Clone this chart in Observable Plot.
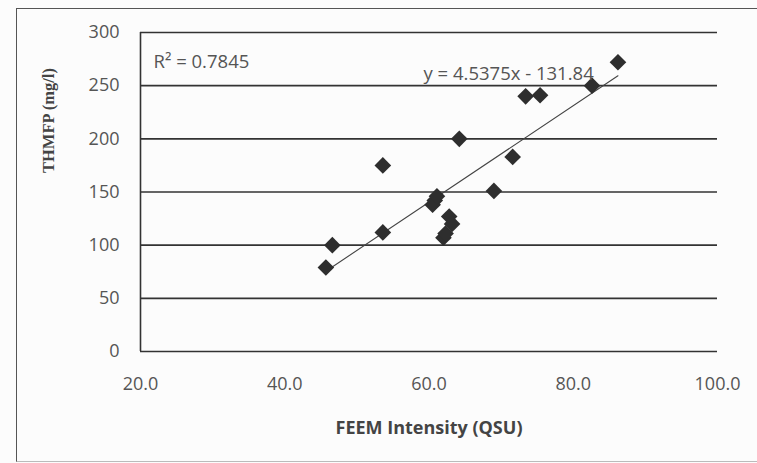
<!DOCTYPE html>
<html>
<head>
<meta charset="utf-8">
<script src="https://cdn.jsdelivr.net/npm/d3@7"></script>
<script src="https://cdn.jsdelivr.net/npm/@observablehq/plot@0.6"></script>
<style>
  body { margin: 0; background: #fcfcfc; }
  #wrap { position: relative; width: 757px; height: 463px; overflow: hidden; }
  #border { position: absolute; left: 16px; top: 8px; width: 800px; height: 452px;
            border-left: 1.5px solid #555; border-top: 1.5px solid #555; border-bottom: 1px solid #bbb; }
  #chart { position: absolute; left: 0; top: 0; }
</style>
</head>
<body>
<div id="wrap"><div id="border"></div><div id="chart"></div></div>
<script>
const feem = [45.7, 46.6, 53.6, 53.6, 60.5, 60.8, 61.1, 62.0, 62.3, 62.8, 63.2, 64.2, 69.0, 71.6, 73.4, 75.4, 82.6, 86.2];
const thmfp = [79, 100, 175, 112, 138, 142, 146, 107, 111, 127, 120, 200, 151, 183, 240, 241, 250, 272];
const xTicks = [20, 40, 60, 80, 100];
const yTicks = [0, 50, 100, 150, 200, 250, 300];
const slope = 4.5375, intercept = -131.84;
const r2Label = "R² = 0.7845";
const eqLabel = "y = 4.5375x - 131.84";

const points = feem.map((x, i) => ({x, y: thmfp[i]}));
const xMin = d3.min(feem), xMax = d3.max(feem);
const trend = [xMin, xMax].map(x => ({x, y: slope * x + intercept}));

const sans = "'Open Sans', sans-serif";
const plot = Plot.plot({
  width: 757, height: 463,
  marginLeft: 140, marginRight: 40, marginTop: 32, marginBottom: 112,
  style: {background: "transparent", fontFamily: sans, fontSize: "18px", color: "#555"},
  x: {domain: [20, 100]},
  y: {domain: [0, 300]},
  marks: [
    Plot.gridY(yTicks, {stroke: "#333", strokeOpacity: 1, strokeWidth: 1.6}),
    Plot.ruleX([20], {stroke: "#333", strokeWidth: 1.6}),
    Plot.axisX(xTicks, {tickSize: 0, tickPadding: 26, tickFormat: d3.format(".1f"), label: null, fill: "#555", fontSize: 18}),
    Plot.axisY(yTicks, {tickSize: 0, tickPadding: 21, label: null, fill: "#555", fontSize: 18}),
    Plot.line(trend, {x: "x", y: "y", stroke: "#444", strokeWidth: 1.1}),
    Plot.dot(points, {x: "x", y: "y", symbol: "diamond2", r: 7.5, fill: "#2e2e2e", stroke: "none"}),
    Plot.text([r2Label], {frameAnchor: "top-left", dx: 13, dy: 30, lineAnchor: "middle", textAnchor: "start", fill: "#555", fontSize: 18.5}),
    Plot.text([eqLabel], {frameAnchor: "top-left", dx: 283, dy: 42, lineAnchor: "middle", textAnchor: "start", fill: "#555", fontSize: 18.5}),
    Plot.text(["FEEM Intensity (QSU)"], {frameAnchor: "bottom", dy: 77, lineAnchor: "middle", fontWeight: "bold", fill: "#444", fontSize: 18}),
    Plot.text(["THMFP (mg/l)"], {frameAnchor: "left", dx: -92, dy: -19, rotate: -90, fontWeight: "bold",
      fontFamily: "'Liberation Serif', 'DejaVu Serif', serif", fill: "#444", fontSize: 16.5})
  ]
});
document.getElementById("chart").appendChild(plot);
</script>
</body>
</html>
